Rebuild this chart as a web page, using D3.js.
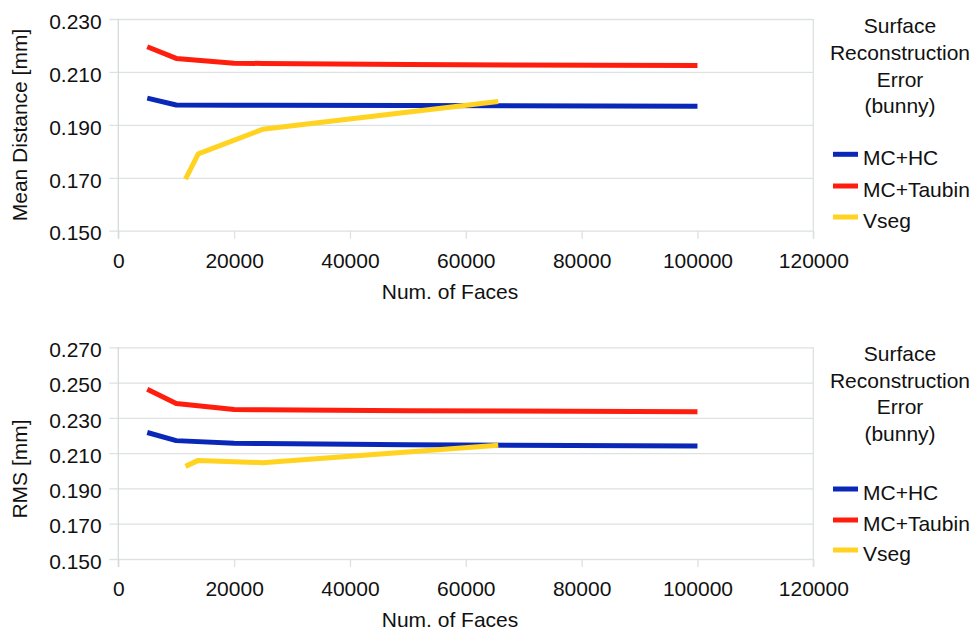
<!DOCTYPE html>
<html>
<head>
<meta charset="utf-8">
<script src="https://cdn.jsdelivr.net/npm/d3@7"></script>
<style>
  html, body { margin: 0; padding: 0; background: #fff; }
  svg { display: block; font-family: "Liberation Sans", Arial, sans-serif; }
</style>
</head>
<body>
<svg id="chart" width="978" height="633"></svg>
<script>
// ---- Data ----
const seriesNames = ["MC+HC", "MC+Taubin", "Vseg"];
const seriesColors = ["#0a28b8", "#ff1e0e", "#ffd320"];
const xTicks = [0, 20000, 40000, 60000, 80000, 100000, 120000];

const mcFaces = [5000, 10000, 20000, 25000, 50000, 100000];
const vsegFaces = [11600, 13800, 24900, 65600];

// Mean Distance [mm]
const meanHC = [0.2001, 0.1975, 0.1974, 0.1974, 0.1973, 0.1970];
const meanTaubin = [0.2195, 0.2151, 0.2133, 0.2132, 0.2128, 0.2124];
const meanVseg = [0.1695, 0.1790, 0.1883, 0.1988];
const meanTicks = [0.150, 0.170, 0.190, 0.210, 0.230];

// RMS [mm]
const rmsHC = [0.2217, 0.2171, 0.2156, 0.2154, 0.2147, 0.2140];
const rmsTaubin = [0.2462, 0.2382, 0.2348, 0.2346, 0.2340, 0.2335];
const rmsVseg = [0.2025, 0.2059, 0.2046, 0.2145];
const rmsTicks = [0.150, 0.170, 0.190, 0.210, 0.230, 0.250, 0.270];

const legendTitle = ["Surface", "Reconstruction", "Error", "(bunny)"];

// ---- Drawing ----
const svg = d3.select("#chart");
const FONT = 21;
const left = 118.3, right = 813.3;
const x = d3.scaleLinear().domain([0, 120000]).range([left, right]);

function drawPanel(cfg) {
  const g = svg.append("g");
  const y = d3.scaleLinear().domain([cfg.ticks[0], cfg.ticks[cfg.ticks.length - 1]]).range([cfg.bottom, cfg.top]);

  // horizontal gridlines + y ticks
  const yAxis = d3.axisLeft(y).tickValues(cfg.ticks).tickFormat(d3.format(".3f"))
    .tickSize(-(right - left)).tickPadding(0);
  const ya = g.append("g").attr("transform", `translate(${left},0)`).call(yAxis);
  ya.select(".domain").remove();
  ya.selectAll(".tick line").attr("stroke", "#dde1e1").attr("stroke-width", 1.3).attr("x1", -9);
  ya.selectAll(".tick text").attr("x", -16.6).attr("dy", "0.44em")
    .attr("font-size", FONT).attr("fill", "#111").attr("font-family", "Liberation Sans, Arial, sans-serif");

  // x axis ticks below the plot
  const xAxis = d3.axisBottom(x).tickValues(xTicks).tickFormat(d3.format("d"))
    .tickSize(8).tickPadding(0);
  const xa = g.append("g").attr("transform", `translate(0,${cfg.bottom})`).call(xAxis);
  xa.select(".domain").remove();
  xa.selectAll(".tick line").attr("stroke", "#dde1e1").attr("stroke-width", 1.3);
  xa.selectAll(".tick text").attr("y", 37).attr("dy", 0)
    .attr("font-size", FONT).attr("fill", "#111").attr("font-family", "Liberation Sans, Arial, sans-serif");

  // left axis line & right border
  g.append("line").attr("x1", left).attr("x2", left).attr("y1", cfg.top).attr("y2", cfg.bottom + 8)
    .attr("stroke", "#d6dada").attr("stroke-width", 1.3);
  g.append("line").attr("x1", right).attr("x2", right).attr("y1", cfg.top).attr("y2", cfg.bottom + 8)
    .attr("stroke", "#dde1e1").attr("stroke-width", 1.3);

  // lines
  const line = d3.line().x(d => x(d[0])).y(d => y(d[1]));
  cfg.series.forEach((s, i) => {
    const pts = s.xs.map((xv, k) => [xv, s.ys[k]]);
    g.append("path").datum(pts).attr("d", line)
      .attr("fill", "none").attr("stroke", seriesColors[i])
      .attr("stroke-width", 5).attr("stroke-linejoin", "round").attr("stroke-linecap", "butt");
  });

  // axis titles
  g.append("text").attr("x", 450).attr("y", cfg.bottom + 68).attr("text-anchor", "middle")
    .attr("font-size", FONT).attr("fill", "#111").text("Num. of Faces");
  g.append("text").attr("transform", `translate(26.7,${cfg.yTitleCenter}) rotate(-90)`)
    .attr("text-anchor", "middle").attr("font-size", FONT).attr("fill", "#111").text(cfg.yTitle);

  // legend
  const lg = g.append("g");
  legendTitle.forEach((t, k) => {
    lg.append("text").attr("x", 900).attr("y", cfg.legTitleY + k * 26.7).attr("text-anchor", "middle")
      .attr("font-size", FONT).attr("fill", "#111").text(t);
  });
  seriesNames.forEach((n, k) => {
    const cy = cfg.legItemY[k];
    lg.append("line").attr("x1", 833).attr("x2", 858).attr("y1", cy).attr("y2", cy)
      .attr("stroke", seriesColors[k]).attr("stroke-width", 5);
    lg.append("text").attr("x", 863).attr("y", cy + 10.7)
      .attr("font-size", FONT).attr("fill", "#111").text(n);
  });
}

drawPanel({
  top: 19, bottom: 230.7, ticks: meanTicks, yTitle: "Mean Distance [mm]", yTitleCenter: 125,
  series: [{ xs: mcFaces, ys: meanHC }, { xs: mcFaces, ys: meanTaubin }, { xs: vsegFaces, ys: meanVseg }],
  legTitleY: 33.3, legItemY: [154.3, 186, 217]
});
drawPanel({
  top: 347.3, bottom: 559, ticks: rmsTicks, yTitle: "RMS [mm]", yTitleCenter: 469,
  series: [{ xs: mcFaces, ys: rmsHC }, { xs: mcFaces, ys: rmsTaubin }, { xs: vsegFaces, ys: rmsVseg }],
  legTitleY: 361, legItemY: [489, 520, 550]
});
</script>
</body>
</html>
